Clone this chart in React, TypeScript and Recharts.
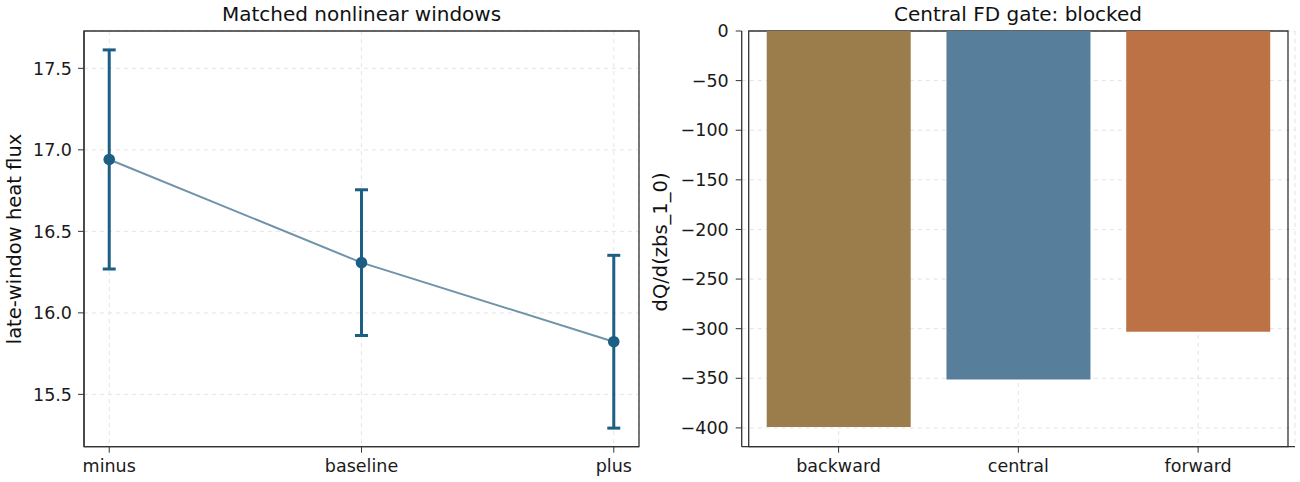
import { LineChart, Line, ErrorBar, BarChart, Bar, Cell, XAxis, YAxis, CartesianGrid, ReferenceArea } from 'recharts';

const windows = ['minus', 'baseline', 'plus'];
const heatFlux = [16.941, 16.308, 15.823];
const heatFluxErr = [0.672, 0.447, 0.53];
const fluxTicks = [15.5, 16.0, 16.5, 17.0, 17.5];
const fluxDomain = [15.179, 17.729];
const windowDomain = [-0.1, 2.1];

const schemes = ['backward', 'central', 'forward'];
const derivative = [-399.0, -351.3, -303.2];
const schemeColors = ['#9a7d4a', '#577f9c', '#bd7245'];
const derivTicks = [0, -50, -100, -150, -200, -250, -300, -350, -400];
const derivDomain = [-418.95, 0];

const lineData = windows.map((w, i) => ({ x: i, name: w, flux: heatFlux[i], err: heatFluxErr[i] }));
const barData = schemes.map((s, i) => ({ name: s, d: derivative[i] }));

const FONT = '"DejaVu Sans", sans-serif';
const AXIS = '#333333';
const tick = { fontSize: 17.5, fill: '#1a1a1a' };
const minus = (v: number) => (v < 0 ? `\u2212${Math.abs(v)}` : `${v}`);

export default function App() {
  return (
    <div style={{ position: 'absolute', left: 0, top: 0, width: 1300, height: 482, background: '#fff', fontFamily: FONT }}>
      <div style={{ position: 'absolute', left: 0, top: 0 }}>
        <LineChart width={650} height={482} data={lineData} margin={{ top: 31, right: 11, bottom: 0, left: 0 }}>
          <CartesianGrid strokeDasharray="4 4" stroke="#e4e4e4" />
          <XAxis dataKey="x" type="number" domain={windowDomain} ticks={[0, 1, 2]} tickFormatter={(v) => windows[v]}
            height={35.3} tickSize={6} tickMargin={7}
            tick={tick} axisLine={{ stroke: AXIS, strokeWidth: 1.3 }} tickLine={{ stroke: AXIS }} />
          <YAxis width={84} domain={fluxDomain} ticks={fluxTicks} tickFormatter={(v) => v.toFixed(1)}
            tickSize={6} tickMargin={6} tick={tick} axisLine={{ stroke: AXIS, strokeWidth: 1.3 }} tickLine={{ stroke: AXIS }} />
          <Line dataKey="flux" stroke="#7093aa" strokeWidth={2} isAnimationActive={false}
            dot={{ r: 5.8, fill: '#1c5e84', stroke: '#1c5e84', strokeWidth: 0 }} activeDot={false}>
            <ErrorBar dataKey="err" direction="y" width={6.5} stroke="#1c5e84" strokeWidth={3} isAnimationActive={false} />
          </Line>
          <ReferenceArea y1={fluxDomain[0]} y2={fluxDomain[1]} fill="none" fillOpacity={0}
            stroke={AXIS} strokeWidth={1.3} strokeOpacity={1} ifOverflow="visible" />
        </LineChart>
      </div>
      <div style={{ position: 'absolute', left: 650, top: 0 }}>
        <BarChart width={650} height={482} data={barData} margin={{ top: 31, right: 5, bottom: 0, left: 0 }}>
          <XAxis dataKey="name" height={35.3} padding={{ left: 7, right: 7 }} tickSize={6} tickMargin={7}
            tick={tick} axisLine={{ stroke: AXIS, strokeWidth: 1.3 }} tickLine={{ stroke: AXIS }} />
          <YAxis width={91.7} domain={derivDomain} ticks={derivTicks} tickFormatter={minus}
            tickSize={6} tickMargin={7} tick={tick} axisLine={{ stroke: AXIS, strokeWidth: 1.3 }} tickLine={{ stroke: AXIS }} />
          <Bar dataKey="d" barSize={144} isAnimationActive={false}>
            {barData.map((b, i) => <Cell key={b.name} fill={schemeColors[i]} />)}
          </Bar>
          <CartesianGrid strokeDasharray="4 4" stroke="#b0b0b0" strokeOpacity={0.35} />
          <ReferenceArea y1={derivDomain[0]} y2={derivDomain[1]} fill="none" fillOpacity={0}
            stroke={AXIS} strokeWidth={1.3} strokeOpacity={1} ifOverflow="visible" />
        </BarChart>
      </div>
      <svg width={1300} height={482} style={{ position: 'absolute', left: 0, top: 0, pointerEvents: 'none' }}>
        <text x={361.5} y={21} textAnchor="middle" fontSize={20} fill="#111">Matched nonlinear windows</text>
        <text x={1018} y={21} textAnchor="middle" fontSize={20} fill="#111">Central FD gate: blocked</text>
        <text transform="translate(21,239) rotate(-90)" textAnchor="middle" fontSize={19.5} fill="#111">late-window heat flux</text>
        <text transform="translate(667,242) rotate(-90)" textAnchor="middle" fontSize={19.5} fill="#111">dQ/d(zbs_1_0)</text>
      </svg>
    </div>
  );
}
